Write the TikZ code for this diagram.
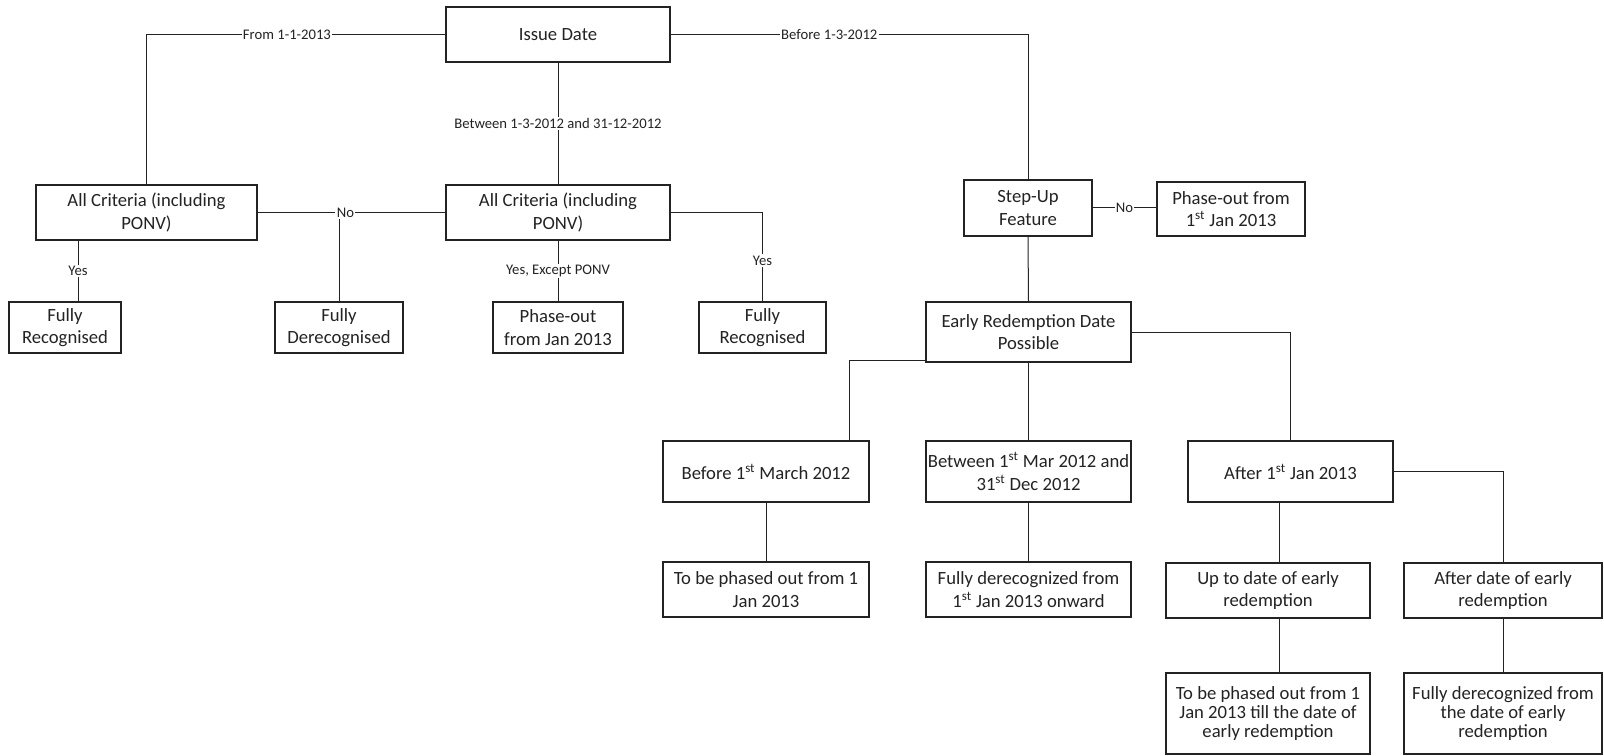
\documentclass[tikz,border=0pt]{standalone}
\usepackage{fontspec}
\setmainfont{Carlito}
\usetikzlibrary{calc,shadows}
\definecolor{linie}{RGB}{35,35,35}
\definecolor{schatten}{RGB}{140,140,140}

\begin{document}
\begin{tikzpicture}[x=0.75pt, y=-0.75pt, linie, line width=0.75pt,
	box/.style={draw, fill=white, line width=1pt, align=center, inner sep=0pt,
		font=\fontsize{14}{17}\selectfont,
		drop shadow={shadow xshift=0.9pt, shadow yshift=-0.9pt, fill=schatten, opacity=0.7}},
	sz/.style 2 args={minimum width=#1*0.75pt, minimum height=#2*0.75pt},
	dreizeilig/.style={font=\fontsize{14}{14.5}\selectfont},
	lab/.style={fill=white, inner sep=1pt, font=\fontsize{11}{13}\selectfont},
]
\useasboundingbox (0,0) rectangle (1604,756);

% Boxen
\node[box, sz={224}{55}] (issue) at (558,34.5) {Issue Date};
\node[box, sz={221}{55}] (allA) at (146.5,212.5) {All Criteria (including\\PONV)};
\node[box, sz={224}{55}] (allB) at (558,212.5) {All Criteria (including\\PONV)};
\node[box, sz={112}{51}] (recA) at (65,327.5) {Fully\\Recognised};
\node[box, sz={128}{51}] (derec) at (339,327.5) {Fully\\Derecognised};
\node[box, sz={130}{51}] (phase) at (558,327.5) {Phase-out\\from Jan 2013};
\node[box, sz={127}{51}] (recB) at (762.5,327.5) {Fully\\Recognised};
\node[box, sz={128}{56}] (stepup) at (1028,208) {Step-Up\\Feature};
\node[box, sz={148}{54}] (phaseB) at (1231,209) {Phase-out from\\1\textsuperscript{st} Jan 2013};
\node[box, sz={205}{60}] (early) at (1028.5,332) {Early Redemption Date\\Possible};

\node[box, sz={206}{61}] (before) at (766,471.5) {Before 1\textsuperscript{st} March 2012};
\node[box, sz={205}{61}] (between) at (1028.5,471.5) {Between 1\textsuperscript{st} Mar 2012 and\\31\textsuperscript{st} Dec 2012};
\node[box, sz={205}{61}] (after) at (1290.5,471.5) {After 1\textsuperscript{st} Jan 2013};

\node[box, sz={206}{55}] (outA) at (766,589.5) {To be phased out from 1\\Jan 2013};
\node[box, sz={205}{55}] (derecA) at (1028.5,589.5) {Fully derecognized from\\1\textsuperscript{st} Jan 2013 onward};
\node[box, sz={204}{55}] (upto) at (1268,590.5) {Up to date of early\\redemption};
\node[box, sz={198}{55}] (afterdate) at (1503,590.5) {After date of early\\redemption};
\node[box, dreizeilig, sz={204}{81}] (outB) at (1268,713.5) {To be phased out from 1\\Jan 2013 till the date of\\early redemption};
\node[box, dreizeilig, sz={198}{81}] (derecB) at (1503,713.5) {Fully derecognized from\\the date of early\\redemption};

% Verbindungen
\draw (issue.west) -| (allA.north) node[lab, pos=0.265] {From 1-1-2013};
\draw (issue.south) -- (allB.north) node[lab, midway] {Between 1-3-2012 and 31-12-2012};
\draw (issue.east) -| (stepup.north) node[lab, pos=0.222] {Before 1-3-2012};

\path (recA.north) ++(13,0) coordinate (ya);
\draw (ya) -- (ya |- allA.south) node[lab, midway] {Yes};
\draw (allA.east) -| (derec.north);
\draw (allB.west) -| (derec.north) node[lab, pos=0.47] {No};
\draw (allB.south) -- (phase.north) node[lab, midway] {Yes, Except PONV};
\draw (allB.east) -| (recB.north) node[lab, pos=0.77] {Yes};

\draw (stepup.east) -- (stepup.east -| phaseB.west) node[lab, midway] {No};
\draw (stepup.south) -- (early.north);

\path (early.west) ++(0,28) coordinate (ew);
\path (before.north) ++(83,0) coordinate (vb);
\draw (ew) -| (vb);
\draw (early.south) -- (between.north);
\draw (early.east) -| (after.north);

\draw (before.south) -- (outA.north);
\draw (between.south) -- (derecA.north);
\path (upto.north) ++(11,0) coordinate (ua);
\draw (ua) -- (ua |- after.south);
\draw (after.east) -| (afterdate.north);
\draw (upto.south -| ua) -- (outB.north -| ua);
\draw (afterdate.south) -- (derecB.north);

\end{tikzpicture}
\end{document}
